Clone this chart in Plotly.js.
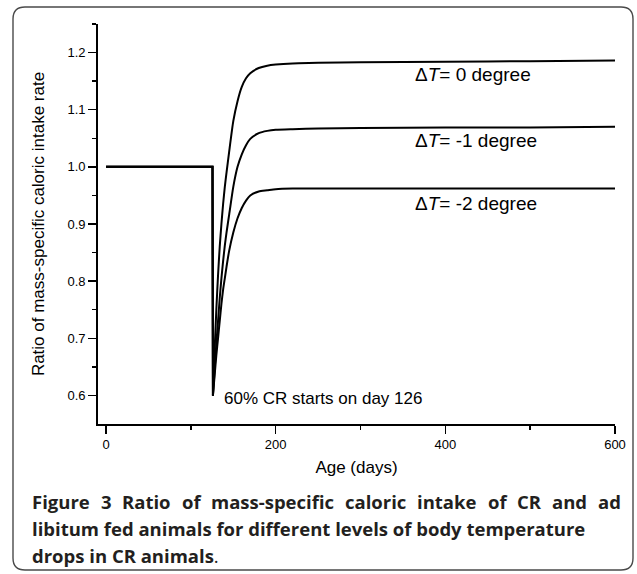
<!DOCTYPE html>
<html><head><meta charset="utf-8">
<script src="https://cdn.plot.ly/plotly-3.0.1.min.js"></script>
<style>html,body{margin:0;padding:0;background:#fff}</style>
</head><body>
<div id="chart" style="width:637px;height:574px"></div>
<script>
// ---- data ----
const ageDays = [0,125.5,126,128,130,132,134,136,138,140,142,145,150,155,160,165,170,180,190,200,220,250,300,400,500,600];
const ratioDT0 = [1.0,1.0,0.60,0.68,0.75,0.81,0.86,0.90,0.935,0.965,0.99,1.025,1.08,1.115,1.14,1.155,1.164,1.173,1.177,1.179,1.181,1.182,1.183,1.184,1.185,1.186];
const ratioDT1 = [1.0,1.0,0.60,0.645,0.69,0.73,0.77,0.805,0.835,0.862,0.885,0.915,0.965,1.00,1.022,1.038,1.049,1.059,1.063,1.065,1.066,1.067,1.068,1.069,1.069,1.070];
const ratioDT2 = [1.0,1.0,0.60,0.635,0.67,0.70,0.73,0.76,0.785,0.805,0.825,0.852,0.885,0.91,0.928,0.941,0.95,0.957,0.959,0.961,0.962,0.962,0.962,0.962,0.962,0.962];
const seriesLabels = ['Δ<i>T</i>= 0 degree','Δ<i>T</i>= -1 degree','Δ<i>T</i>= -2 degree'];
const labelY = [1.161, 1.047, 0.936];
const labelX = 362;
const crNote = '60% CR starts on day 126';
const crNoteX = 137, crNoteY = 0.595;
const xTicks = [0,200,400,600];
const yTicks = [0.6,0.7,0.8,0.9,1.0,1.1,1.2];
const captionLines = [
  ['Figure','3','Ratio','of','mass-specific','caloric','intake','of','CR','and','ad'],
  'libitum fed animals for different levels of body temperature',
  'drops in CR animals'
];

// ---- layout geometry (pixels) ----
const W = 637, H = 574;
const M = {l:98, r:22, t:24, b:150};
const pw = W - M.l - M.r, ph = H - M.t - M.b;
const px2x = p => (p - M.l) / pw;
const py2y = p => (H - M.b - p) / ph;

const lineStyle = {color:'#000', width:2};
const traces = [];
[ratioDT0, ratioDT1, ratioDT2].forEach(v => {
  traces.push({x: ageDays.slice(0,3), y: v.slice(0,3), type:'scatter', mode:'lines',
    line: lineStyle, hoverinfo:'skip', showlegend:false});
  traces.push({x: ageDays.slice(2), y: v.slice(2), type:'scatter', mode:'lines',
    line: Object.assign({shape:'spline', smoothing:0.6}, lineStyle), hoverinfo:'skip', showlegend:false});
});

const annotations = [];
seriesLabels.forEach((t,i) => annotations.push({
  x: labelX, y: labelY[i], xref:'x', yref:'y', text: t, showarrow:false,
  xanchor:'left', yanchor:'middle', font:{family:'Liberation Sans, Arial', size:19, color:'#000'}
}));
annotations.push({x: crNoteX, y: crNoteY, xref:'x', yref:'y', text: crNote, showarrow:false,
  xanchor:'left', yanchor:'middle', font:{family:'Liberation Sans, Arial', size:17, color:'#000'}});

// caption
const capFont = {family:'Open Sans', size:18.5, color:'#231f20'};
const capLeft = 30, capRight = 619;
const capY = [501.7, 528, 555];
const cv = document.createElement('canvas').getContext('2d');
cv.font = 'bold ' + capFont.size + 'px "' + capFont.family + '"';
const words = captionLines[0];
const widths = words.map(w => cv.measureText(w).width);
const totalW = widths.reduce((a,b)=>a+b,0);
const gap = (capRight - capLeft - totalW) / (words.length - 1);
let cx = capLeft;
words.forEach((w,i) => {
  annotations.push({x: px2x(cx), y: py2y(capY[0]), xref:'paper', yref:'paper', text:'<b>'+w+'</b>',
    showarrow:false, xanchor:'left', yanchor:'middle', font: capFont});
  cx += widths[i] + gap;
});
annotations.push({x: px2x(capLeft), y: py2y(capY[1]), xref:'paper', yref:'paper', text:'<b>'+captionLines[1]+'</b>',
  showarrow:false, xanchor:'left', yanchor:'middle', font: capFont});
annotations.push({x: px2x(capLeft), y: py2y(capY[2]), xref:'paper', yref:'paper', text:'<b>'+captionLines[2]+'</b>.',
  showarrow:false, xanchor:'left', yanchor:'middle', font: capFont});

// rounded frame
const fx0 = px2x(13), fx1 = px2x(633), fy0 = py2y(570), fy1 = py2y(7);
const rx = 12/pw, ry = 12/ph;
const framePath = `M ${fx0+rx},${fy1} L ${fx1-rx},${fy1} Q ${fx1},${fy1} ${fx1},${fy1-ry} L ${fx1},${fy0+ry} Q ${fx1},${fy0} ${fx1-rx},${fy0} L ${fx0+rx},${fy0} Q ${fx0},${fy0} ${fx0},${fy0+ry} L ${fx0},${fy1-ry} Q ${fx0},${fy1} ${fx0+rx},${fy1} Z`;

const axisCommon = {
  showgrid:false, zeroline:false, showline:true, linecolor:'#000', linewidth:1.8,
  ticks:'outside', ticklen:8, tickwidth:1.5, tickcolor:'#000',
  tickfont:{family:'Liberation Sans, Arial', size:13, color:'#000'},
};
const layout = {
  width: W, height: H, margin: M,
  paper_bgcolor:'#fff', plot_bgcolor:'#fff',
  showlegend:false,
  xaxis: Object.assign({}, axisCommon, {
    range:[-9.5, 600], tickvals: xTicks, ticktext: xTicks.map(String),
    minor:{ticks:'outside', ticklen:4, tickwidth:1.5, tickcolor:'#000', tickvals:[100,300,500]},
    title:{text:'Age (days)', font:{family:'Liberation Sans, Arial', size:17, color:'#000'}, standoff:10}
  }),
  yaxis: Object.assign({}, axisCommon, {
    range:[0.55, 1.25], tickvals: yTicks, ticktext: yTicks.map(v => v.toFixed(1)),
    minor:{ticks:'outside', ticklen:4, tickwidth:1.5, tickcolor:'#000', tickvals:[0.65,0.75,0.85,0.95,1.05,1.15,1.25]},
    title:{text:'Ratio of mass-specific caloric intake rate', font:{family:'Liberation Sans, Arial', size:17, color:'#000'}, standoff:18}
  }),
  annotations: annotations,
  shapes:[{type:'path', xref:'paper', yref:'paper', path: framePath, line:{color:'#4a4a4a', width:1.4}, layer:'below'}]
};
Plotly.newPlot('chart', traces, layout, {displayModeBar:false, staticPlot:true});
</script>
</body></html>
